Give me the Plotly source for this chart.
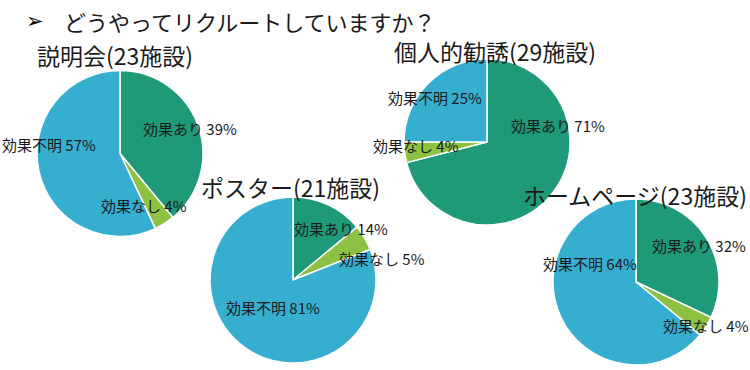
import plotly.graph_objects as go

# ---------------- data ----------------
categories = ["効果あり", "効果なし", "効果不明"]
titles = ["説明会(23施設)", "個人的勧誘(29施設)", "ポスター(21施設)", "ホームページ(23施設)"]
setsumeikai = [39, 4, 57]
kojin_kanyu = [71, 4, 25]
poster = [14, 5, 81]
homepage = [32, 4, 64]
heading = "どうやってリクルートしていますか？"

# ---------------- layout / style ----------------
W, H = 750, 370
COLORS = ["#1E9A78", "#8DC142", "#35AECF"]
FONT = "Noto Sans CJK JP"
TXT = "#1a1a1a"

# pixel centers and radii of each pie (layout)
pies = [
    dict(values=setsumeikai, cx=120, cy=153.5, r=83, title_xy=(115, 55),
         label_off=[(70, -25.5), (24, 51.5), (-71.5, -9.5)]),
    dict(values=kojin_kanyu, cx=487, cy=142, r=83, title_xy=(494.5, 51),
         label_off=[(71, -17), (-71, 3), (-52, -44)]),
    dict(values=poster, cx=293, cy=280, r=83, title_xy=(290, 187),
         label_off=[(48, -52), (88.5, -22), (-20, 27)]),
    dict(values=homepage, cx=636, cy=282, r=83, title_xy=(635, 195),
         label_off=[(63, -37), (70, 43), (-46, -19)]),
]

fig = go.Figure()
annotations = []

for p, title in zip(pies, titles):
    x0 = (p["cx"] - p["r"]) / W
    x1 = (p["cx"] + p["r"]) / W
    y0 = 1 - (p["cy"] + p["r"]) / H
    y1 = 1 - (p["cy"] - p["r"]) / H
    fig.add_trace(go.Pie(
        labels=categories,
        values=p["values"],
        sort=False,
        direction="clockwise",
        rotation=0,
        textinfo="none",
        hoverinfo="label+percent",
        marker=dict(colors=COLORS, line=dict(color="white", width=1.5)),
        domain=dict(x=[x0, x1], y=[y0, y1]),
        showlegend=False,
    ))
    # slice labels
    for cat, val, (dx, dy) in zip(categories, p["values"], p["label_off"]):
        annotations.append(dict(
            x=(p["cx"] + dx) / W, y=1 - (p["cy"] + dy) / H,
            xref="paper", yref="paper", showarrow=False,
            xanchor="center", yanchor="middle",
            text=f"{cat} {val}%",
            font=dict(family=FONT, size=15, color=TXT),
        ))
    # pie title
    tx, ty = p["title_xy"]
    annotations.append(dict(
        x=tx / W, y=1 - ty / H, xref="paper", yref="paper", showarrow=False,
        xanchor="center", yanchor="middle", text=title,
        font=dict(family=FONT, size=23, color=TXT),
    ))

# heading
annotations.append(dict(
    x=35 / W, y=1 - 21 / H, xref="paper", yref="paper", showarrow=False,
    xanchor="center", yanchor="middle", text="<b>➢</b>",
    font=dict(family="DejaVu Sans", size=21, color="#000000"),
))
annotations.append(dict(
    x=62 / W, y=1 - 21 / H, xref="paper", yref="paper", showarrow=False,
    xanchor="left", yanchor="middle", text=heading,
    font=dict(family=FONT, size=22, color=TXT),
))

fig.update_layout(
    width=W, height=H,
    margin=dict(l=0, r=0, t=0, b=0),
    paper_bgcolor="white", plot_bgcolor="white",
    annotations=annotations,
)

fig.write_html(
    "out.html",
    config={"displayModeBar": False},
    post_script="document.body.style.margin='0';document.body.style.overflow='hidden';",
)
